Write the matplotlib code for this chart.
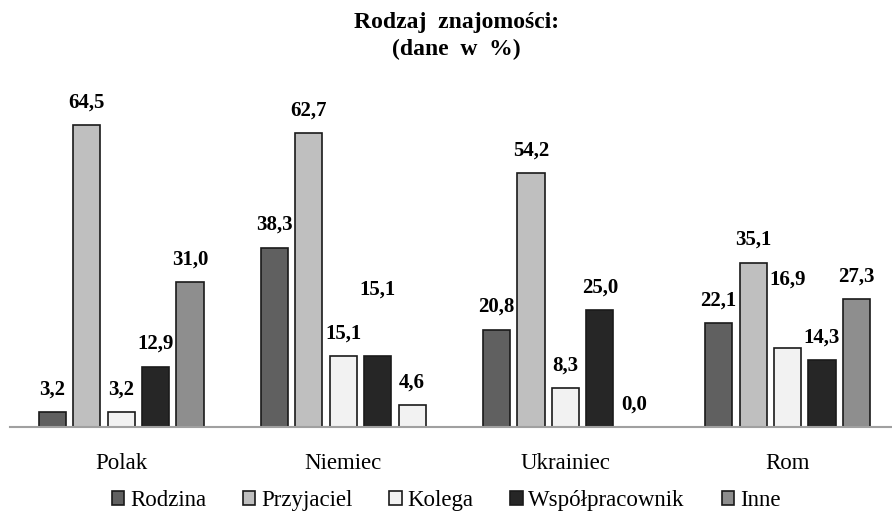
import matplotlib.pyplot as plt
import numpy as np

# data
groups = ['Polak', 'Niemiec', 'Ukrainiec', 'Rom']
series = ['Rodzina', 'Przyjaciel', 'Kolega', 'Współpracownik', 'Inne']
rodzina = [3.2, 38.3, 20.8, 22.1]
przyjaciel = [64.5, 62.7, 54.2, 35.1]
kolega = [3.2, 15.1, 8.3, 16.9]
wspolpracownik = [12.9, 15.1, 25.0, 14.3]
inne = [31.0, 4.6, 0.0, 27.3]
values = [rodzina, przyjaciel, kolega, wspolpracownik, inne]

colors = ['#606060', '#bfbfbf', '#f2f2f2', '#262626', '#8e8e8e']
serif = 'Liberation Serif'

fig = plt.figure(figsize=(8.92, 5.23), dpi=100)
ax = fig.add_axes([10 / 892, 96 / 523, 1 - 10 / 892, 0.627])

x = np.arange(len(groups))
pitch = 0.155
width = 0.122
# extra lift (points) for a few labels that sit higher in the original
lift = {(3, 1): 32, (2, 3): 33}

for i, (name, vals) in enumerate(zip(series, values)):
    pos = x + (i - 2) * pitch
    cols = [colors[i]] * len(vals)
    if i == 4:
        cols[1] = colors[2]  # Niemiec "Inne" bar is drawn light in the original
    ax.bar(pos, vals, width, color=cols, edgecolor='#1a1a1a', linewidth=1.2,
           label=name)
    for j, v in enumerate(vals):
        ax.annotate(f'{v:.1f}'.replace('.', ','), (pos[j], v),
                    xytext=(0, 9 + lift.get((i, j), 0)),
                    textcoords='offset points', ha='center', va='bottom',
                    fontsize=15, fontweight='bold', family=serif)

ax.set_xlim(-0.5, 3.47)
ax.set_ylim(0, 70)
for s in ['top', 'right', 'left']:
    ax.spines[s].set_visible(False)
ax.spines['bottom'].set_color('#a0a0a0')
ax.spines['bottom'].set_linewidth(1.5)
ax.set_yticks([])
ax.set_xticks(x)
ax.set_xticklabels(groups, fontsize=16.5, family=serif)
ax.tick_params(axis='x', length=0, pad=19)

fig.text(0.512, 0.957, 'Rodzaj  znajomości:', ha='center', va='center',
         fontsize=17, fontweight='bold', family=serif)
fig.text(0.512, 0.905, '(dane  w  %)', ha='center', va='center',
         fontsize=17, fontweight='bold', family=serif)

fig.legend(loc='center', bbox_to_anchor=(0.50, 0.043), ncol=5, frameon=False,
           prop={'family': serif, 'size': 16.5}, handlelength=0.55,
           handleheight=0.55, handletextpad=0.25, columnspacing=1.6)

fig.savefig('out.png', dpi=100)
